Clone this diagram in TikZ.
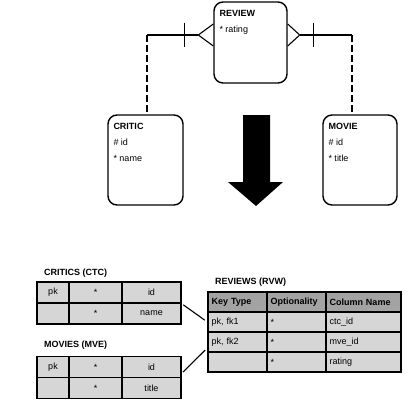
\documentclass[tikz,border=0pt]{standalone}
\usepackage{fontspec}
\setmainfont{Liberation Sans}
\usetikzlibrary{positioning}
\definecolor{cellGrey}{HTML}{D6D6D6}
\definecolor{headGrey}{HTML}{A3A3A3}

\begin{document}
\begin{tikzpicture}[x=1pt, y=-1pt,
  every node/.style={font=\fontsize{9}{16}\selectfont, inner sep=0pt},
  entity/.style={draw, line width=1.4pt, rounded corners=9pt,
                 minimum width=73pt, minimum height=81pt},
  etext/.style={anchor=north west, align=left},
  rel/.style={line width=1.1pt},
  reldash/.style={rel, dash pattern=on 7pt off 3pt},
  cell/.style={draw, line width=1.4pt, fill=cellGrey, minimum height=21pt},
  rcell/.style={cell, minimum height=20pt, align=left},
  hcell/.style={rcell, fill=headGrey, font=\fontsize{9}{16}\selectfont\bfseries},
  ttitle/.style={anchor=west, font=\fontsize{9}{16}\selectfont\bfseries},
  link/.style={line width=1.1pt, shorten <=2pt, shorten >=3pt},
]
\useasboundingbox (0,0) rectangle (420,420);

% --- ER model ----------------------------------------------------
\node[entity] (review) at (250.5,42.5) {};
\node[etext] (reviewtxt) at ([xshift=6pt, yshift=-9pt]review.north west)
  {\textbf{REVIEW}\\* rating};

\node[entity, minimum width=75pt, minimum height=90pt] (critic) at (145.5,160) {};
\node[etext] (critictxt) at ([xshift=6pt, yshift=-9pt]critic.north west)
  {\textbf{CRITIC}\\\# id\\* name};

\node[entity, minimum width=74pt, minimum height=90pt] (movie) at (360,160) {};
\node[etext] (movietxt) at ([xshift=6pt, yshift=-9pt]movie.north west)
  {\textbf{MOVIE}\\\# id\\* title};

% relationship critic -- review
\coordinate (rvwL) at ([yshift=7.5pt]review.west);
\coordinate (lbend) at ([xshift=1.5pt]critic.north |- rvwL);
\coordinate (ltip) at ([xshift=-15pt]rvwL);
\draw[rel] (ltip) -- (lbend);
\draw[reldash] (lbend) -- ([xshift=1.5pt]critic.north);
\draw[rel] ([yshift=11pt]rvwL) -- (ltip) -- ([yshift=-11pt]rvwL);
\draw[rel] ([xshift=-29pt, yshift=12pt]rvwL) -- ([xshift=-29pt, yshift=-12pt]rvwL);

% relationship movie -- review
\coordinate (rvwR) at ([yshift=7.5pt]review.east);
\coordinate (rbend) at ([xshift=-8pt]movie.north |- rvwR);
\coordinate (rtip) at ([xshift=12pt]rvwR);
\draw[rel] (rtip) -- (rbend);
\draw[reldash] (rbend) -- ([xshift=-8pt]movie.north);
\draw[rel] ([yshift=11pt]rvwR) -- (rtip) -- ([yshift=-11pt]rvwR);
\draw[rel] ([xshift=26pt, yshift=12pt]rvwR) -- ([xshift=26pt, yshift=-12pt]rvwR);

% big transformation arrow
\fill (243,115) -- (270,115) -- (270,182) -- (283,182) -- (256,206)
  -- (228,182) -- (243,182) -- cycle;

% --- Relational tables -------------------------------------------
\node[ttitle] (ctctitle) at (44,273) {CRITICS (CTC)};
\node[cell, minimum width=32pt] (ctc11) at (53,292.5)   {pk};
\node[cell, minimum width=53pt] (ctc12) at (95.5,292.5) {*};
\node[cell, minimum width=59pt] (ctc13) at (151.5,292.5) {id};
\node[cell, minimum width=32pt] (ctc21) at (53,313.5)   {};
\node[cell, minimum width=53pt] (ctc22) at (95.5,313.5) {*};
\node[cell, minimum width=59pt] (ctc23) at (151.5,313.5) {name};

\node[ttitle] (mvetitle) at (44,345) {MOVIES (MVE)};
\node[cell, minimum width=32pt] (mve11) at (53,367)   {pk};
\node[cell, minimum width=53pt] (mve12) at (95.5,367) {*};
\node[cell, minimum width=59pt] (mve13) at (151.5,367) {id};
\node[cell, minimum width=32pt] (mve21) at (53,388)   {};
\node[cell, minimum width=53pt] (mve22) at (95.5,388) {*};
\node[cell, minimum width=59pt] (mve23) at (151.5,388) {title};

\node[ttitle] (rvwtitle) at (215,282) {REVIEWS (RVW)};
\node[hcell, minimum width=59pt, text width=52pt] (rvw11) at (237.5,302) {Key Type};
\node[hcell, minimum width=59pt, text width=52pt] (rvw12) at (296.5,302) {Optionality};
\node[hcell, minimum width=75pt, text width=68pt] (rvw13) at (363.5,302) {Column Name};
\node[rcell, minimum width=59pt, text width=52pt] (rvw21) at (237.5,322) {pk, fk1};
\node[rcell, minimum width=59pt, text width=52pt] (rvw22) at (296.5,322) {*};
\node[rcell, minimum width=75pt, text width=68pt] (rvw23) at (363.5,322) {ctc\_id};
\node[rcell, minimum width=59pt, text width=52pt] (rvw31) at (237.5,342) {pk, fk2};
\node[rcell, minimum width=59pt, text width=52pt] (rvw32) at (296.5,342) {*};
\node[rcell, minimum width=75pt, text width=68pt] (rvw33) at (363.5,342) {mve\_id};
\node[rcell, minimum width=59pt, text width=52pt] (rvw41) at (237.5,362) {};
\node[rcell, minimum width=59pt, text width=52pt] (rvw42) at (296.5,362) {*};
\node[rcell, minimum width=75pt, text width=68pt] (rvw43) at (363.5,362) {rating};

% foreign key links
\draw[link] (ctc13.south east) -- (rvw21.west);
\draw[link] ([yshift=3.5pt]mve23.north east) -- ([yshift=-6pt]rvw31.west);
\end{tikzpicture}
\end{document}
